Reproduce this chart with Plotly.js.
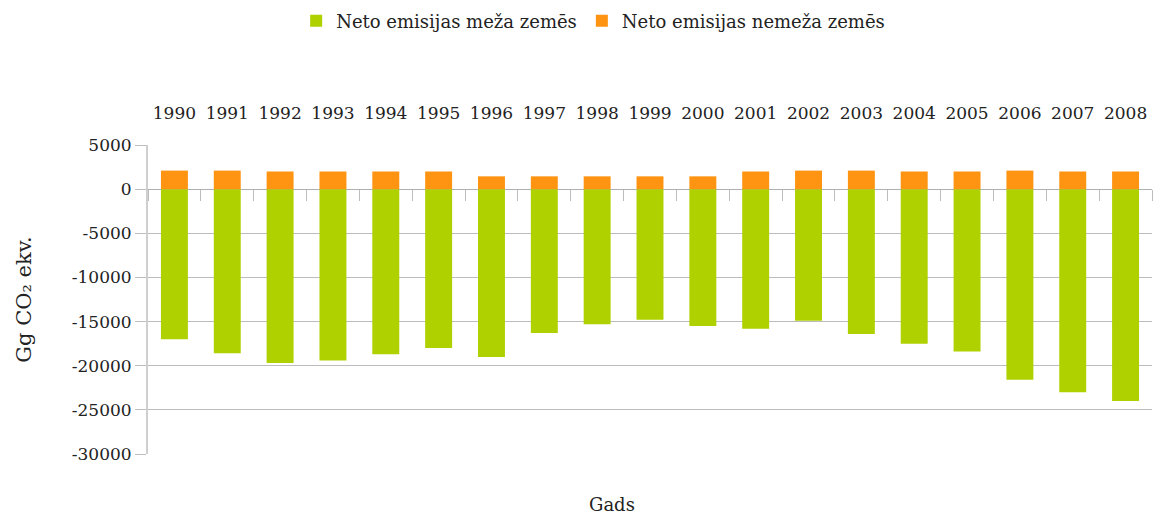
<!DOCTYPE html>
<html>
<head>
<meta charset="utf-8">
<script src="https://cdn.plot.ly/plotly-3.0.1.min.js"></script>
<style>html,body{margin:0;padding:0;background:#fff;}#chart{width:1154px;height:515px;}</style>
</head>
<body>
<div id="chart"></div>
<script>
const years = ["1990","1991","1992","1993","1994","1995","1996","1997","1998","1999","2000","2001","2002","2003","2004","2005","2006","2007","2008"];
const forestLand = [-17000,-18600,-19700,-19400,-18700,-18000,-19000,-16300,-15300,-14800,-15500,-15800,-14900,-16400,-17500,-18400,-21600,-23000,-24000];
const nonForestLand = [2100,2100,2000,2000,2000,2000,1450,1450,1450,1450,1450,2000,2100,2100,2000,2000,2100,2000,2000];
const seriesNames = ["Neto emisijas meža zemēs","Neto emisijas nemeža zemēs"];
const yTicks = [5000,0,-5000,-10000,-15000,-20000,-25000,-30000];

const FONT = "DejaVu Serif, Liberation Serif, serif";
const yMin = -30000, yMax = 5000;

const traces = [
  {type:"bar", name:seriesNames[0], x:years, y:forestLand, marker:{color:"#afd100"}, hoverinfo:"x+y"},
  {type:"bar", name:seriesNames[1], x:years, y:nonForestLand, marker:{color:"#ff9412"}, hoverinfo:"x+y"},
  {type:"scatter", mode:"markers", x:years, y:nonForestLand, xaxis:"x2", marker:{opacity:0}, showlegend:false, hoverinfo:"skip"}
];

const layout = {
  width:1154, height:515,
  margin:{l:148, r:2, t:145, b:61},
  paper_bgcolor:"#fff", plot_bgcolor:"#fff",
  font:{family:FONT, size:17, color:"#222"},
  barmode:"relative",
  bargap:0.49,
  showlegend:true,
  legend:{orientation:"h", traceorder:"normal", xref:"container", yref:"container", x:0.514, xanchor:"center", y:0.995, yanchor:"top", font:{family:FONT, size:18, color:"#222"}, itemwidth:30},
  xaxis:{type:"category", categoryorder:"array", categoryarray:years, range:[-0.5,18.5], anchor:"free", position:(0 - yMin)/(yMax - yMin), side:"bottom", showline:false, showgrid:false, zeroline:false, ticks:"outside", tickson:"boundaries", ticklen:11, tickcolor:"#bdbdbd", tickwidth:1, showticklabels:false},
  xaxis2:{type:"category", categoryorder:"array", categoryarray:years, range:[-0.5,18.5], overlaying:"x", anchor:"y", side:"top", showline:false, showgrid:false, zeroline:false, ticks:"outside", ticklen:18, tickcolor:"rgba(0,0,0,0)", tickfont:{family:FONT, size:17, color:"#222"}},
  yaxis:{range:[yMin,yMax], tickvals:yTicks, ticktext:yTicks.map(String), showgrid:true, gridcolor:"#bcbcbc", gridwidth:1, zeroline:true, zerolinecolor:"#b0b0b0", zerolinewidth:1, showline:true, linecolor:"#cfcfcf", linewidth:2, ticks:"outside", ticklen:11, tickcolor:"#bdbdbd", tickfont:{family:FONT, size:17, color:"#222"},
    title:{text:"Gg CO₂ ekv.", font:{family:FONT, size:21, color:"#222"}, standoff:34}},
  annotations:[{text:"Gads", xref:"paper", yref:"paper", x:0.462, y:-0.165, xanchor:"center", yanchor:"middle", showarrow:false, font:{family:FONT, size:18, color:"#222"}}]
};

Plotly.newPlot("chart", traces, layout, {displayModeBar:false, staticPlot:true});
</script>
</body>
</html>
